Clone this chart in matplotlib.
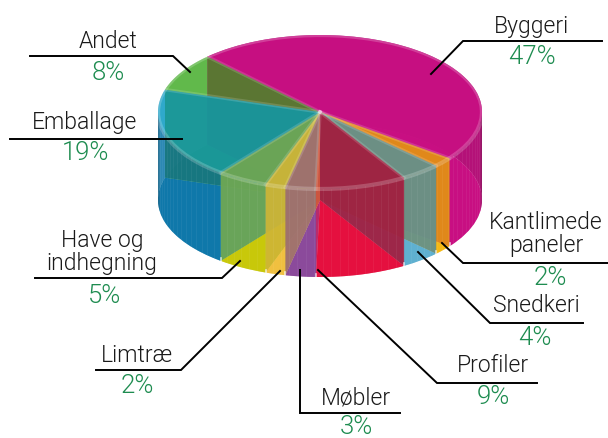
#!/usr/bin/env python3

import matplotlib
matplotlib.use("Agg")
import matplotlib.pyplot as plt
import numpy as np
from matplotlib.transforms import Affine2D

names = ["Byggeri", "Kantlimede\npaneler", "Snedkeri", "Profiler", "Møbler",
         "Limtræ", "Have og\nindhegning", "Emballage", "Andet"]
values = [47, 2, 4, 9, 3, 2, 5, 19, 8]
pct_labels = ["47%", "2%", "4%", "9%", "3%", "2%", "5%", "19%", "8%"]

colors = ["#C80F82", "#F5B914", "#5FB0D0", "#E5103F", "#8B4A9B",
          "#F0C040", "#C8C80A", "#0F78AA", "#4BB032"]
# colour of the inner cut seen through each slice
side_colors = ["#A00C68", "#CD5F1A", "#73723A", "#55374B", "#B59C41",
               "#AAAA28", "#0A82AA", "#1E735A", "#694132"]

cx, rx = 320, 162
top_y, bot_y, ry = 112, 200, 77

plt.rcParams['font.family'] = ['Roboto', 'DejaVu Sans']
plt.rcParams['font.weight'] = 300
fig = plt.figure(figsize=(6.08, 4.38), dpi=100)
ax = fig.add_axes([0, 0, 1, 1])

def pie_layer(y, alpha, z):
    wedges, _ = ax.pie(values, colors=colors, startangle=134, counterclock=False,
                       wedgeprops=dict(alpha=alpha, linewidth=0, zorder=z))
    t = Affine2D().scale(rx, -ry).translate(cx, y) + ax.transData
    for w in wedges:
        w.set_transform(t)
    return wedges

def rim(a, b, y):
    th = np.radians(np.linspace(a, b, 80))
    return cx + rx*np.cos(th), y - ry*np.sin(th)

def wall(a, b, color, alpha, z):
    x1, y1 = rim(a, b, top_y)
    x2, y2 = rim(b, a, bot_y)
    ax.fill(np.r_[x1, x2], np.r_[y1, y2], color=color, alpha=alpha, lw=0, zorder=z)

def cut(a, color):
    x = cx + rx*np.cos(np.radians(a))
    s = ry*np.sin(np.radians(a))
    z = 3 + 0.4*(1 - np.sin(np.radians(a)))/2
    ax.fill([cx, x, x, cx], [top_y, top_y - s, bot_y - s, bot_y],
            color=color, alpha=0.92, lw=0, zorder=z)

bottom = pie_layer(bot_y, 1.0, 1)
top = pie_layer(top_y, 0.5, 6)
top[0].set_alpha(0.97)
top[7].set_facecolor("#14B8D8")
top[7].set_alpha(0.5)
ax.set_aspect('auto')
ax.set_xlim(0, 608)
ax.set_ylim(438, 0)
ax.axis('off')

for i, w in enumerate(bottom):
    a, b = w.theta1, w.theta2
    # walls split where they pass from the back to the front of the pie
    stops = [a] + [k*180 for k in range(-4, 5) if a < k*180 < b] + [b]
    for lo, hi in zip(stops[:-1], stops[1:]):
        if np.sin(np.radians((lo + hi)/2)) > 0:
            if i == 0:
                wall(lo, hi, "#A0146E", 1.0, 2)
            else:
                wall(lo, hi, colors[i], 0.75, 2)
        else:
            wall(lo, hi, colors[i], 0.5, 5)
    # inner cut farthest from the viewer in this slice
    sa, sb = np.sin(np.radians(a)), np.sin(np.radians(b))
    if np.sin(np.radians((a + b)/2)) > 0:
        far = a if sa > sb else b
    else:
        far = a if abs(np.cos(np.radians(a))) > abs(np.cos(np.radians(b))) else b
    cut(far, side_colors[i])

# thin vertical stripes on the outer wall
for a in np.arange(-176, 0, 3.0):
    xs = cx + rx*np.cos(np.radians(a))
    ys = -ry*np.sin(np.radians(a))
    ax.plot([xs, xs], [top_y + ys, bot_y + ys], color="white", alpha=0.05, lw=0.7, zorder=5.5)

# highlights round the top edge
x, y = rim(0, 360, top_y)
ax.plot(x, y, color="white", alpha=0.2, lw=3, zorder=7)
for w in top:
    a = w.theta1
    xr = cx + rx*np.cos(np.radians(a))
    yr = top_y - ry*np.sin(np.radians(a))
    ax.plot([cx, xr], [top_y, yr], color="white", alpha=0.15, lw=2.5, zorder=7)
    # small gap between slices at the foot of the front wall
    if yr > top_y + 10:
        ax.plot([xr, xr], [yr + bot_y - top_y - 3, yr + bot_y - top_y + 1],
                color="white", alpha=0.7, lw=1.2, zorder=7)

# darker edge at both sides of the wall
for a, b in [(-8, 0), (180, 188)]:
    wall(a, b, "black", 0.18, 7)

# leader lines
leaders = [[(431, 74), (463, 41), (602, 41)],
           [(442, 243), (463, 263), (608, 263)],
           [(418, 252), (490, 323), (583, 323)],
           [(318, 270), (437, 383), (537, 383)],
           [(300, 270), (300, 413), (400, 413)],
           [(280, 271), (181, 370), (96, 370)],
           [(240, 261), (222, 278), (35, 278)],
           [(182, 139), (10, 139)],
           [(190, 72), (173, 56), (30, 56)]]
for pts in leaders:
    px, py = zip(*pts)
    ax.plot(px, py, color="black", lw=1.4, zorder=8, solid_joinstyle='miter')

name_pos = [(532, 26), (546, 234), (536, 306), (493, 366), (356, 398),
            (137, 355), (102, 252), (85, 122), (108, 41)]
pct_pos = [(532, 57), (550, 278), (535, 338), (493, 397), (356, 427),
           (137, 386), (105, 296), (86, 153), (108, 73)]
for i in range(len(names)):
    ax.text(*name_pos[i], names[i], ha='center', va='center', fontsize=16.5,
            color="#1a1a1a", linespacing=1.0, zorder=9)
    ax.text(*pct_pos[i], pct_labels[i], ha='center', va='center', fontsize=18.5,
            color="#1E8C50", zorder=9)

plt.savefig("out.png", dpi=100)
